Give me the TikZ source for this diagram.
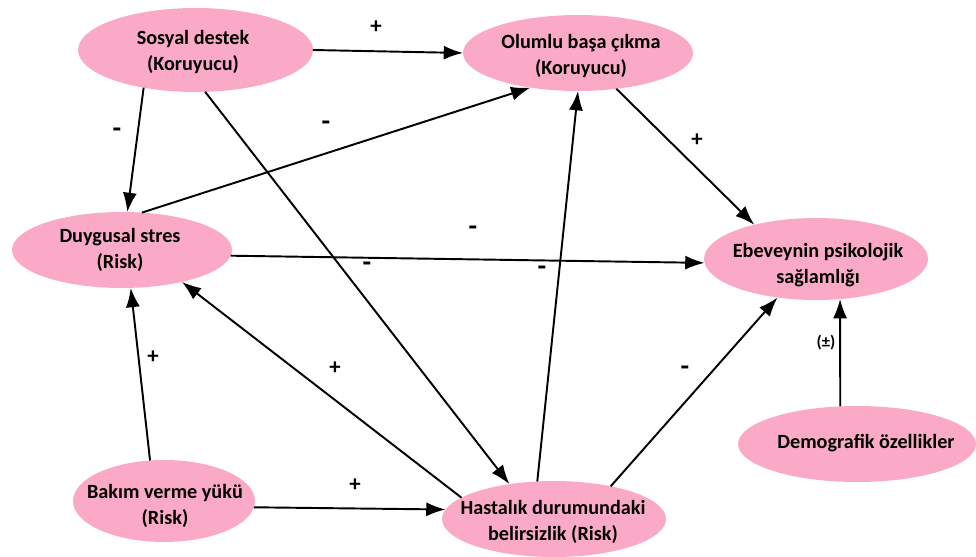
\documentclass[tikz,border=0pt]{standalone}
\usepackage{fontspec}
\setmainfont{Carlito}
\usetikzlibrary{arrows.meta,shapes.geometric}
\definecolor{nodePink}{RGB}{250,170,198}
\begin{document}
\begin{tikzpicture}
[x=0.02cm,y=-0.02cm,
factor/.style={ellipse,fill=nodePink,inner sep=0pt,outer sep=0pt},
factorText/.style={align=center,font=\fontsize{11.5}{14.5}\selectfont\bfseries},
edge/.style={line width=1.1pt,-{Latex[length=11pt,width=8pt]}},
signLabel/.style={inner sep=0pt,font=\fontsize{13}{14}\selectfont\bfseries},
minusLabel/.style={inner sep=0pt,font=\fontsize{16}{16}\selectfont\bfseries},
smallLabel/.style={inner sep=0pt,font=\fontsize{9.5}{12}\selectfont\bfseries},
]
\useasboundingbox (0,0) rectangle (976,557);
% ellipses
\node[factor,minimum width=4.7cm,minimum height=1.68cm] (sosyal) at (195.5,50) {};
\node[factor,minimum width=4.6cm,minimum height=1.52cm] (olumlu) at (578,53) {};
\node[factor,minimum width=4.4cm,minimum height=1.52cm] (duygusal) at (122,250) {};
\node[factor,minimum width=4.48cm,minimum height=1.64cm] (ebeveyn) at (816,259) {};
\node[factor,minimum width=4.76cm,minimum height=1.52cm] (demografik) at (857,444) {};
\node[factor,minimum width=3.64cm,minimum height=1.64cm] (bakim) at (164,501) {};
\node[factor,minimum width=4.48cm,minimum height=1.52cm] (hastalik) at (554,519) {};
% texts
\node[factorText] (sosyalText) at (193,52) {Sosyal destek\\(Koruyucu)};
\node[factorText] (olumluText) at (581,56) {Olumlu başa çıkma\\(Koruyucu)};
\node[factorText] (duygusalText) at (120,250) {Duygusal stres\\(Risk)};
\node[factorText] (ebeveynText) at (818,265) {Ebeveynin psikolojik\\sağlamlığı};
\node[factorText] (demografikText) at (866,443) {Demografik özellikler};
\node[factorText] (bakimText) at (165,506) {Bakım verme yükü\\(Risk)};
\node[factorText] (hastalikText) at (553,522) {Hastalık durumundaki\\belirsizlik (Risk)};
% connectors
\draw[edge] (sosyal.east) -- (olumlu.west);
\draw[edge] (sosyal.-144) -- (duygusal.82);
\draw[edge] (sosyal.-77) -- (hastalik.142);
\draw[edge] (olumlu.-43) -- (ebeveyn.151);
\draw[edge] (duygusal.62) -- (olumlu.-144);
\draw[edge] (duygusal.-3) -- (ebeveyn.182);
\draw[edge] (bakim.109) -- (duygusal.-77);
\draw[edge] (hastalik.167) -- (duygusal.-28);
\draw[edge] (bakim.-4) -- (hastalik.175);
\draw[edge] (hastalik.114) -- (olumlu.south);
\draw[edge] (hastalik.30) -- (ebeveyn.-135);
\draw[edge] (demografik.114) -- (ebeveyn.-59);
% signs
\node[signLabel] (signSosyalOlumlu) at (376,27) {+};
\node[minusLabel] (signSosyalDuygusal) at (117,133) {-};
\node[minusLabel] (signDuygusalOlumlu) at (326,126) {-};
\node[minusLabel] (signDuygusalEbeveyn) at (473,231) {-};
\node[minusLabel] (signSosyalHastalik) at (367,267) {-};
\node[minusLabel] (signHastalikOlumlu) at (542,271) {-};
\node[signLabel] (signOlumluEbeveyn) at (697,140) {+};
\node[signLabel] (signBakimDuygusal) at (153,357) {+};
\node[signLabel] (signHastalikDuygusal) at (335,368) {+};
\node[signLabel] (signBakimHastalik) at (355,485) {+};
\node[minusLabel] (signHastalikEbeveyn) at (685,371) {-};
\node[smallLabel] (signDemografikEbeveyn) at (826,343) {(±)};
\end{tikzpicture}
\end{document}
